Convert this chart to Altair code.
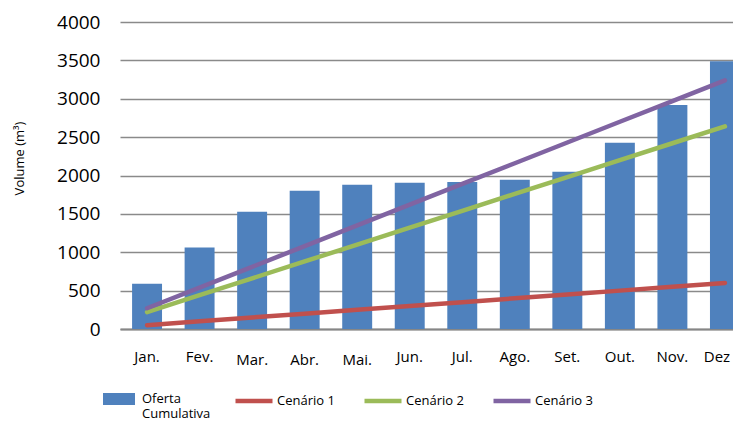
import altair as alt
import pandas as pd

months = ["Jan.", "Fev.", "Mar.", "Abr.", "Mai.", "Jun.", "Jul.", "Ago.", "Set.", "Out.", "Nov.", "Dez"]
oferta = [590, 1062, 1527, 1800, 1879, 1905, 1914, 1944, 2048, 2426, 2917, 3490]
cenario1 = [50, 100, 150, 200, 250, 300, 350, 400, 450, 500, 550, 600]
cenario2 = [220, 440, 660, 880, 1100, 1320, 1540, 1760, 1980, 2200, 2420, 2640]
cenario3 = [270, 540, 810, 1080, 1350, 1620, 1890, 2160, 2430, 2700, 2970, 3240]
y_ticks = [0, 500, 1000, 1500, 2000, 2500, 3000, 3500, 4000]

bar_name = "Oferta Cumulativa"
line_names = ["Cenário 1", "Cenário 2", "Cenário 3"]
bar_color = "#4F81BD"
line_colors = ["#C0504D", "#9BBB59", "#8064A2"]

bars_df = pd.DataFrame({"mes": months, "valor": oferta, "serie": bar_name})
lines_df = pd.concat([
    pd.DataFrame({"mes": months, "valor": vals, "serie": name})
    for name, vals in zip(line_names, [cenario1, cenario2, cenario3])
], ignore_index=True)

FONT = "Open Sans"

x_enc = alt.X(
    "mes:N", sort=months,
    scale=alt.Scale(range=[0, 632], paddingInner=0.43, paddingOuter=0.23),
    axis=alt.Axis(
        title=None, labelAngle=0, labelFont=FONT, labelFontSize=15, labelColor="#000000",
        labelPadding={"condition": {"test": "indexof(['Mar.','Abr.','Mai.'], datum.value) >= 0", "value": 23},
                      "value": 20},
        labelOffset={"condition": {"test": "datum.value == 'Dez'", "value": -8}, "value": 0},
        ticks=False, tickSize=0, domainColor="#868686", domainWidth=2, grid=False,
    ),
)
y_enc = alt.Y(
    "valor:Q",
    scale=alt.Scale(domain=[0, 4000], nice=False),
    axis=alt.Axis(
        values=y_ticks, format="d", title="Volume (m³)", titleFont=FONT, titleFontSize=13,
        titleFontWeight="normal",
        titleColor="#000000", titleAngle=270, titleX=-101, titleY=136, titleAlign="center",
        titleBaseline="middle",
        labelFont=FONT, labelFontSize=19, labelColor="#000000", labelPadding=20,
        ticks=False, tickSize=0, domain=False, gridColor="#8a8a8a", gridWidth=1.4,
    ),
)

bars = alt.Chart(bars_df).mark_bar().encode(
    x=x_enc, y=y_enc,
    fill=alt.Fill("serie:N", scale=alt.Scale(domain=[bar_name], range=[bar_color]),
                  legend=alt.Legend(title=None, orient="none", legendX=-17, legendY=361,
                                    symbolType="M-1,-0.375H1V0.375H-1Z", symbolSize=1024,
                                    symbolStrokeWidth=0, labelFont=FONT, labelFontSize=13,
                                    labelColor="#000000", labelOffset=7,
                                    labelExpr="split(datum.label, ' ')")),
)

lines = alt.Chart(lines_df).mark_line(strokeWidth=4.5, strokeCap="round").encode(
    x=x_enc, y=y_enc,
    stroke=alt.Stroke("serie:N", scale=alt.Scale(domain=line_names, range=line_colors),
                      legend=alt.Legend(title=None, orient="none", legendX=113, legendY=358,
                                        direction="horizontal", columns=3, columnPadding=20,
                                        symbolType="stroke", symbolSize=1369, symbolStrokeWidth=4.5,
                                        labelFont=FONT, labelFontSize=13, labelColor="#000000",
                                        labelOffset=2)),
)

chart = alt.layer(bars, lines).properties(
    width=613, height=307,
    autosize=alt.AutoSizeParams(type="none"),
    padding={"left": 112, "top": 14, "right": 0, "bottom": 93},
    background="white",
).configure_view(stroke=None)

chart.save("out.html", embed_options={"renderer": "svg", "actions": False})
